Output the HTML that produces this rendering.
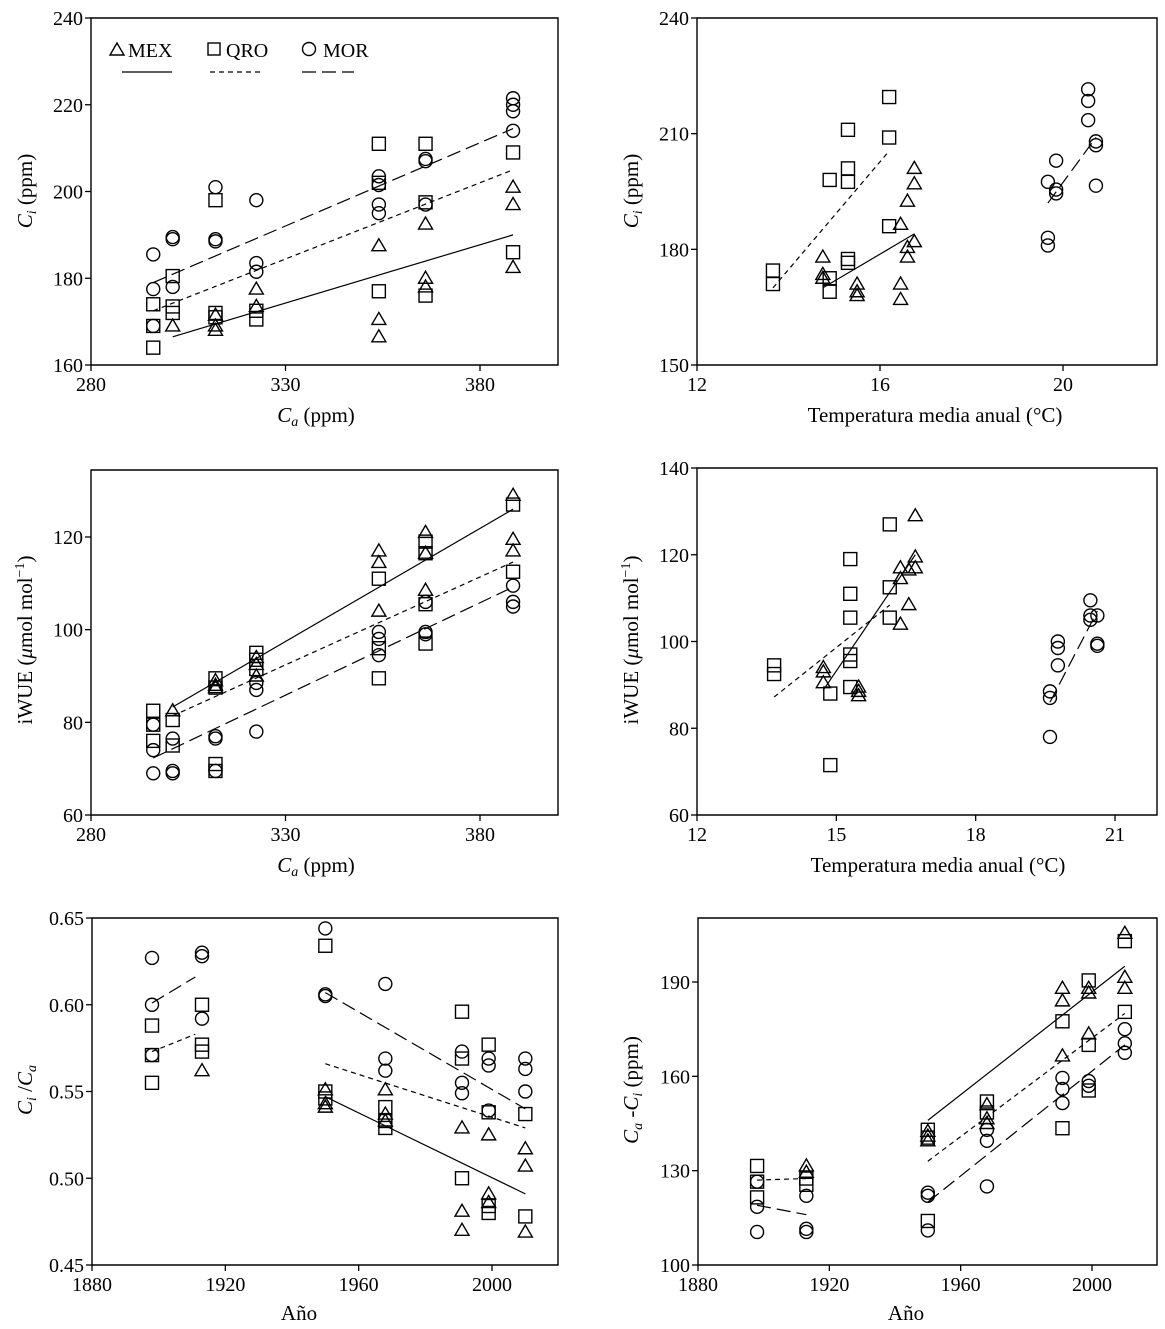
<!DOCTYPE html>
<html><head><meta charset="utf-8"><style>
html,body{margin:0;padding:0;background:#fff}
svg{display:block;font-family:"Liberation Serif",serif}
</style></head><body>
<svg id="fig" width="1165" height="1329" viewBox="0 0 1165 1329" xmlns="http://www.w3.org/2000/svg"></svg>
<script>
// Panel 1: Ca vs Ci
const p1MexX=[301,312,312,312,322.5,322.5,354,354,354,366,366,366,388.5,388.5,388.5];
const p1MexY=[169,171.5,169,168,177.5,173.5,187.5,170.5,166.5,192.5,180,178,201,197,182.5];
const p1QroX=[296,296,296,301,301,301,312,312,312,322.5,322.5,354,354,354,366,366,366,388.5,388.5];
const p1QroY=[174,169,164,180.5,173.5,172,198,172,171,172.5,170.5,211,202,177,211,197.5,176,209,186];
const p1MorX=[296,296,296,301,301,301,312,312,312,322.5,322.5,322.5,354,354,354,354,366,366,366,388.5,388.5,388.5,388.5];
const p1MorY=[185.5,177.5,169,189.5,189,178,201,189,188.5,198,183.5,181.5,203.5,201.5,197,195,207.5,207,197,221.5,220,218.5,214];
const p1Fits=[["mex",301,166.5,388.5,190],["qro",296,172.5,388.5,205],["mor",296,179,388.5,214.5]];
// Panel 2: temperature vs Ci
const p2MexX=[14.75,14.75,14.75,15.5,15.5,15.5,16.45,16.45,16.45,16.6,16.6,16.6,16.75,16.75,16.75];
const p2MexY=[178,173.5,172.5,171,169,168,186.5,171,167,192.5,180.5,178,201,197,182];
const p2QroX=[13.66,13.66,14.9,14.9,14.9,15.3,15.3,15.3,15.3,15.3,16.2,16.2,16.2];
const p2QroY=[174.5,171,198,172.5,169,211,201,197.5,177.5,176.5,219.5,209,186];
const p2MorX=[19.67,19.67,19.67,19.85,19.85,19.85,20.55,20.55,20.55,20.72,20.72,20.72];
const p2MorY=[197.5,183,181,203,195.5,194.5,221.5,218.5,213.5,208,207,196.5];
const p2Fits=[["mex",14.75,170,16.75,184],["qro",13.66,170,16.2,205.5],["mor",19.67,192,20.72,209]];
// Panel 3: Ca vs iWUE
const p3MexX=[301,312,312,312,322.5,322.5,322.5,354,354,354,366,366,366,388.5,388.5,388.5];
const p3MexY=[82.5,89,88,87.5,94,92.5,90,117,114.5,104,121,116.5,108.5,129,119.5,117];
const p3QroX=[296,296,296,301,301,312,312,312,312,322.5,322.5,322.5,354,354,354,366,366,366,366,388.5,388.5];
const p3QroY=[82.5,79.5,76,80.5,75,89.5,87.5,71,69.5,95,93.5,91.5,111,96,89.5,119,116.5,105.5,97,127,112.5];
const p3MorX=[296,296,296,301,301,301,312,312,312,322.5,322.5,322.5,354,354,354,366,366,366,388.5,388.5,388.5];
const p3MorY=[79.5,74,69,76.5,69.5,69,77,76.5,69.5,88.5,87,78,99.5,98,94.5,106,99.5,99,109.5,106,105];
const p3Fits=[["mex",301,83.3,388.5,126],["qro",301,81.4,388.5,114.6],["mor",296,72.3,388.5,109.2]];
// Panel 4: temperature vs iWUE
const p4MexX=[14.72,14.72,14.72,15.48,15.48,15.48,16.38,16.38,16.38,16.56,16.56,16.7,16.7,16.7];
const p4MexY=[94,93,90.5,89.5,88.5,87.5,117,114.5,104,116.5,108.5,129,119.5,117];
const p4QroX=[13.66,13.66,14.87,14.87,15.3,15.3,15.3,15.3,15.3,15.3,16.15,16.15,16.15];
const p4QroY=[94.5,92.5,88,71.5,119,111,105.5,97,95.5,89.5,127,112.5,105.5];
const p4MorX=[19.6,19.6,19.6,19.77,19.77,19.77,20.47,20.47,20.47,20.62,20.62,20.62];
const p4MorY=[88.5,87,78,100,98.5,94.5,109.5,106,105,106,99.5,99];
const p4Fits=[["mex",14.72,88.8,16.7,120],["qro",13.66,87.2,16.15,108.4],["mor",19.6,86,20.62,107]];
// Panel 5: year vs Ci/Ca
const p5MexX=[1913,1950,1950,1950,1968,1968,1968,1991,1991,1991,1999,1999,1999,2010,2010,2010];
const p5MexY=[0.562,0.551,0.543,0.541,0.551,0.537,0.533,0.529,0.481,0.470,0.525,0.491,0.486,0.517,0.507,0.469];
const p5QroX=[1898,1898,1898,1913,1913,1913,1950,1950,1950,1968,1968,1968,1991,1991,1991,1999,1999,1999,1999,2010,2010];
const p5QroY=[0.588,0.571,0.555,0.600,0.577,0.573,0.634,0.550,0.546,0.541,0.533,0.529,0.596,0.569,0.500,0.577,0.538,0.484,0.480,0.537,0.478];
const p5MorX=[1898,1898,1898,1913,1913,1913,1950,1950,1950,1968,1968,1968,1991,1991,1991,1999,1999,1999,2010,2010,2010];
const p5MorY=[0.627,0.600,0.571,0.630,0.628,0.592,0.644,0.606,0.605,0.612,0.569,0.562,0.573,0.555,0.549,0.569,0.565,0.539,0.569,0.563,0.550];
const p5Fits=[["mor",1898,0.601,1911,0.616],["qro",1898,0.573,1911,0.583],["mex",1950,0.547,2010,0.491],["qro",1950,0.566,2010,0.529],["mor",1950,0.607,2010,0.540]];
// Panel 6: year vs Ca-Ci
const p6MexX=[1913,1913,1950,1950,1950,1968,1968,1968,1991,1991,1991,1999,1999,1999,2010,2010,2010];
const p6MexY=[131.5,129.5,142.5,141,139.5,151,146.5,145,188,184,166.5,188,186.5,173.5,205.5,191.5,188];
const p6QroX=[1898,1898,1898,1913,1913,1950,1950,1950,1968,1968,1991,1991,1999,1999,1999,2010,2010];
const p6QroY=[131.5,126.5,121.5,127.5,125.5,143,140.5,114,152,148.5,177.5,143.5,190.5,170,155.5,203,180.5];
const p6MorX=[1898,1898,1898,1913,1913,1913,1950,1950,1950,1968,1968,1968,1991,1991,1991,1999,1999,2010,2010,2010];
const p6MorY=[126.5,118.5,110.5,122,111.5,110.5,123,122,111,143,139.5,125,159.5,156,151.5,158.5,157,175,170.5,167.5];
const p6Fits=[["mex",1950,146,2010,195],["qro",1950,133,2010,180],["mor",1950,120,2010,170],["qro",1898,127,1913,127.5],["mor",1898,119,1913,116]];
// Tick labels
const ticksCa=[280,330,380];
const ticksT2=[12,16,20];
const ticksT4=[12,15,18,21];
const ticksYear=[1880,1920,1960,2000];
const p1YTicks=[160,180,200,220,240];
const p2YTicks=[150,180,210,240];
const p3YTicks=[60,80,100,120];
const p4YTicks=[60,80,100,120,140];
const p5YTicks=[0.45,0.50,0.55,0.60,0.65];
const p6YTicks=[100,130,160,190];

const NS="http://www.w3.org/2000/svg";
const svg=document.getElementById('fig');
function mk(tag,attrs,parent){const e=document.createElementNS(NS,tag);for(const k in attrs)e.setAttribute(k,attrs[k]);(parent||svg).appendChild(e);return e;}
function lin(d0,d1,r0,r1){return v=>r0+(v-d0)*(r1-r0)/(d1-d0);}
const dashes={mex:"none",qro:"5,4",mor:"14,6"};

function marker(kind,cx,cy,g){
  let e;
  if(kind==='mex'){e=mk('polygon',{points:`${cx},${cy-7} ${cx-7},${cy+5} ${cx+7},${cy+5}`,fill:'none',stroke:'#000','stroke-width':1.4},g);}
  else if(kind==='qro'){e=mk('rect',{x:cx-6.5,y:cy-6.5,width:13,height:13,fill:'none',stroke:'#000','stroke-width':1.4},g);}
  else {e=mk('circle',{cx:cx,cy:cy,r:6.5,fill:'none',stroke:'#000','stroke-width':1.4},g);}
  return e;
}

function panel(id,box,xs,ys,xt,yt,fmt,series,fits){
  const g=mk('g',{});
  
  
  const fr=mk('path',{d:`M${box.l},${box.t}H${box.r}V${box.b}H${box.l}Z`,fill:'none',stroke:'#000','stroke-width':1.4},g);
  
  
  xt.forEach(v=>{const x=xs(v);
    mk('line',{x1:x,y1:box.b,x2:x,y2:box.b+6,stroke:'#000','stroke-width':1.3},g);
    const t=mk('text',{x:x,y:box.b+26,'text-anchor':'middle','font-size':20},g);t.textContent=v;
    
    });
  yt.forEach(v=>{const y=ys(v);
    mk('line',{x1:box.l-6,y1:y,x2:box.l,y2:y,stroke:'#000','stroke-width':1.3},g);
    const t=mk('text',{x:box.l-8,y:y+7,'text-anchor':'end','font-size':20},g);t.textContent=fmt(v);
    
    });
  fits.forEach(f=>{const l=mk('line',{x1:xs(f[1]),y1:ys(f[2]),x2:xs(f[3]),y2:ys(f[4]),stroke:'#000','stroke-width':1.2,'stroke-dasharray':dashes[f[0]]},g);
    
    });
  series.forEach(s=>{s[1].forEach((xv,i)=>{const m=marker(s[0],xs(xv),ys(s[2][i]),g);
    
    });});
}
const I=v=>String(v), F2=v=>v.toFixed(2);
const B1={l:91,r:558,t:18,b:365},B2={l:697,r:1157,t:18,b:365},B3={l:91,r:558,t:470,b:815},B4={l:697,r:1157,t:468,b:815},B5={l:92,r:558,t:918,b:1265},B6={l:698,r:1157,t:918,b:1265};
panel('panel-ci-vs-ca',B1,lin(280,380,91,480),lin(160,240,365,18),ticksCa,p1YTicks,I,[['mex',p1MexX,p1MexY],['qro',p1QroX,p1QroY],['mor',p1MorX,p1MorY]],p1Fits);
panel('panel-ci-vs-temp',B2,lin(12,20,697,1063),lin(150,240,365,18),ticksT2,p2YTicks,I,[['mex',p2MexX,p2MexY],['qro',p2QroX,p2QroY],['mor',p2MorX,p2MorY]],p2Fits);
panel('panel-iwue-vs-ca',B3,lin(280,380,91,480),lin(60,120,815,537),ticksCa,p3YTicks,I,[['mex',p3MexX,p3MexY],['qro',p3QroX,p3QroY],['mor',p3MorX,p3MorY]],p3Fits);
panel('panel-iwue-vs-temp',B4,lin(12,21,697,1115),lin(60,140,815,468),ticksT4,p4YTicks,I,[['mex',p4MexX,p4MexY],['qro',p4QroX,p4QroY],['mor',p4MorX,p4MorY]],p4Fits);
panel('panel-ratio-vs-year',B5,lin(1880,2000,92,492),lin(0.45,0.65,1265,918),ticksYear,p5YTicks,F2,[['mex',p5MexX,p5MexY],['qro',p5QroX,p5QroY],['mor',p5MorX,p5MorY]],p5Fits);
panel('panel-diff-vs-year',B6,lin(1880,2000,698,1092),lin(100,190,1265,982),ticksYear,p6YTicks,I,[['mex',p6MexX,p6MexY],['qro',p6QroX,p6QroY],['mor',p6MorX,p6MorY]],p6Fits);
</script>
<svg width="1165" height="1329" style="position:absolute;left:0;top:0" font-family="Liberation Serif, serif" font-size="21">
  <g>
    <polygon points="117,43 110,55 124,55" fill="none" stroke="#000" stroke-width="1.4"/>
    <text x="128" y="57" font-size="20">MEX</text>
    <line x1="122" y1="72" x2="172" y2="72" stroke="#000" stroke-width="1.2"/>
    <rect x="208" y="43" width="12" height="12" fill="none" stroke="#000" stroke-width="1.4"/>
    <text x="226" y="57" font-size="20">QRO</text>
    <line x1="210" y1="72" x2="262" y2="72" stroke="#000" stroke-width="1.2" stroke-dasharray="5,4"/>
    <circle cx="309" cy="49" r="6.5" fill="none" stroke="#000" stroke-width="1.4"/>
    <text x="323" y="57" font-size="20">MOR</text>
    <line x1="302" y1="72" x2="354" y2="72" stroke="#000" stroke-width="1.2" stroke-dasharray="14,6"/>
  </g>
  <text x="316" y="422" text-anchor="middle"><tspan font-style="italic">C</tspan><tspan font-style="italic" font-size="14" dy="4">a</tspan><tspan dy="-4"> (ppm)</tspan></text>
  <text x="935" y="422" text-anchor="middle">Temperatura media anual (°C)</text>
  <text x="316" y="872" text-anchor="middle"><tspan font-style="italic">C</tspan><tspan font-style="italic" font-size="14" dy="4">a</tspan><tspan dy="-4"> (ppm)</tspan></text>
  <text x="938" y="872" text-anchor="middle">Temperatura media anual (°C)</text>
  <text x="299" y="1320" text-anchor="middle">Año</text>
  <text x="906" y="1320" text-anchor="middle">Año</text>
  <text transform="translate(32,191) rotate(-90)" text-anchor="middle"><tspan font-style="italic">C</tspan><tspan font-style="italic" font-size="14" dy="4">i</tspan><tspan dy="-4"> (ppm)</tspan></text>
  <text transform="translate(638,191) rotate(-90)" text-anchor="middle"><tspan font-style="italic">C</tspan><tspan font-style="italic" font-size="14" dy="4">i</tspan><tspan dy="-4"> (ppm)</tspan></text>
  <text transform="translate(32,640) rotate(-90)" text-anchor="middle">iWUE (<tspan font-style="italic">μ</tspan>mol mol<tspan font-size="14" dy="-8">−1</tspan><tspan dy="8">)</tspan></text>
  <text transform="translate(638,640) rotate(-90)" text-anchor="middle">iWUE (<tspan font-style="italic">μ</tspan>mol mol<tspan font-size="14" dy="-8">−1</tspan><tspan dy="8">)</tspan></text>
  <text transform="translate(32,1090) rotate(-90)" text-anchor="middle"><tspan font-style="italic">C</tspan><tspan font-style="italic" font-size="14" dy="4">i</tspan><tspan dy="-4"> /</tspan><tspan font-style="italic">C</tspan><tspan font-style="italic" font-size="14" dy="4">a</tspan></text>
  <text transform="translate(638,1090) rotate(-90)" text-anchor="middle"><tspan font-style="italic">C</tspan><tspan font-style="italic" font-size="14" dy="4">a</tspan><tspan dy="-4"> -</tspan><tspan font-style="italic">C</tspan><tspan font-style="italic" font-size="14" dy="4">i</tspan><tspan dy="-4"> (ppm)</tspan></text>
</svg>
</body></html>
